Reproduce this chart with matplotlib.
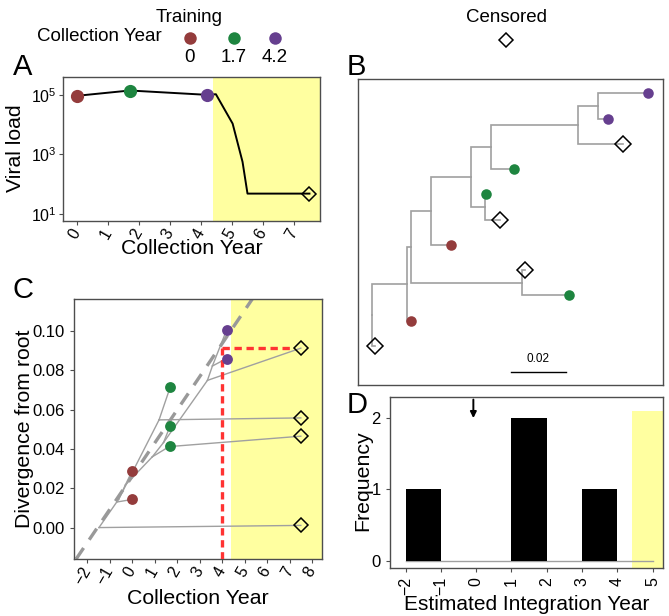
import matplotlib
matplotlib.use('Agg')
import matplotlib.pyplot as plt
import numpy as np

plt.rcParams['font.family'] = ['Liberation Sans', 'DejaVu Sans']
plt.rcParams['mathtext.fontset'] = 'custom'
plt.rcParams['mathtext.rm'] = 'Liberation Sans'
plt.rcParams['mathtext.it'] = 'Liberation Sans:italic'
plt.rcParams['axes.unicode_minus'] = True

# ---------------- data ----------------
red, green, purple = '#943C3C', '#1E8540', '#663F8F'
yellow = '#FFFFA0'
year_cols = {0: red, 1.7: green, 4.2: purple}
train_years = [0, 1.7, 4.2]
censor_year = 7.5
shade_start = 4.4

# panel A, viral load
vl_year = [0, 1.7, 4.2, 4.48, 5.02, 5.34, 5.5, 7.5]
vl_load = [9.3e4, 1.4e5, 1.0e5, 1.05e5, 1.08e4, 5.6e2, 48, 48]

# tree tips, bottom to top in panel B
tip_names = ['t1', 't2', 't3', 't4', 't5', 't6', 't7', 't8', 't9', 't10', 't11']
tip_year = [7.5, 0, 1.7, 7.5, 0, 7.5, 1.7, 1.7, 7.5, 4.2, 4.2]
tip_div = [0.0011, 0.0143, 0.0716, 0.0558, 0.0287, 0.0465, 0.0416, 0.0519, 0.0913, 0.0860, 0.1005]

# internal nodes (divergence, estimated year in panel C)
node_names = ['root', 'n1', 'n2', 'n3', 'n4', 'n5', 'n6', 'n7', 'n8', 'n9']
node_div = [0.0, 0.0130, 0.0143, 0.0216, 0.0548, 0.0360, 0.0433, 0.0412, 0.0749, 0.0822]
node_year = [-1.47, -0.68, -0.6, -0.3, 1.2, 0.9, 1.4, 1.65, 3.35, 3.57]

edges = [('root', 't1'), ('root', 'n1'), ('n1', 't2'), ('n1', 'n2'),
         ('n2', 'n3'), ('n2', 'n4'), ('n4', 't3'), ('n4', 't4'),
         ('n3', 't5'), ('n3', 'n5'), ('n5', 'n7'), ('n5', 'n6'),
         ('n7', 't7'), ('n7', 't6'), ('n6', 't8'), ('n6', 'n8'),
         ('n8', 't9'), ('n8', 'n9'), ('n9', 't10'), ('n9', 't11')]

# root-to-tip regression and integration estimate
reg_intercept = 0.026
reg_slope = 0.0169
integ_tip = 't9'
integ_est = 3.98

# panel D, estimated integration years of censored tips
integ_years = [-1.48, 1.21, 1.76, 3.98]
hist_bins = [-2, -1, 0, 1, 2, 3, 4, 5]
arrow_year = -0.08

div = dict(zip(tip_names + node_names, tip_div + node_div))
yr = dict(zip(tip_names + node_names, tip_year + node_year))

# ---------------- helpers ----------------
spine_col = '#4d4d4d'
lab_size = 15.3
tick_size = 11.5


def style(ax):
    for s in ax.spines.values():
        s.set_color(spine_col)
        s.set_linewidth(1.0)
    ax.tick_params(direction='out', length=3, width=0.8, color=spine_col,
                   labelsize=tick_size, labelcolor='black')


def tip_marker(ax, x, y, year, ms_o, ms_d):
    if year == censor_year:
        ax.plot(x, y, 'D', ms=ms_d, mfc='none', mec='black', mew=1.1, zorder=5)
    else:
        ax.plot(x, y, 'o', ms=ms_o, color=year_cols[year], mec='none', zorder=5)


fig = plt.figure(figsize=(6.69, 6.16), dpi=100)

# ---------------- A ----------------
ax_a = fig.add_axes([0.0949, 0.6412, 0.3834, 0.2338])
ax_a.set_yscale('log')
ax_a.set_xlim(-0.44, 7.84)
ax_a.set_ylim(10 ** 0.76, 10 ** 5.6)
ax_a.axvspan(shade_start, 7.84, color=yellow, lw=0, zorder=0)
ax_a.plot(vl_year, vl_load, color='black', lw=1.4, zorder=2)
for y0 in train_years:
    i = vl_year.index(y0)
    ax_a.plot(vl_year[i], vl_load[i], 'o', ms=9.5, color=year_cols[y0], mec='none', zorder=5)
ax_a.plot(vl_year[-1], vl_load[-1], 'D', ms=7.6, mfc='none', mec='black', mew=1.1, zorder=5)
ax_a.set_yticks([1e1, 1e3, 1e5])
ax_a.minorticks_off()
ax_a.set_xticks(range(0, 8))
style(ax_a)
ax_a.tick_params(axis='y', labelsize=11.5, pad=2)
plt.setp(ax_a.get_xticklabels(), rotation=60, ha='right', va='center', rotation_mode='anchor')
ax_a.set_xlabel('Collection Year', fontsize=lab_size)
ax_a.set_ylabel('Viral load', fontsize=lab_size)
ax_a.xaxis.set_label_coords(0.5, -0.125)
ax_a.xaxis.label.set_va('top')
ax_a.yaxis.set_label_coords(-0.15, 0.507)

# ---------------- B ----------------
ax_b = fig.add_axes([0.5351, 0.375, 0.4559, 0.4968])
children = {}
for p, c in edges:
    children.setdefault(p, []).append(c)
ypos = {n: i + 1 for i, n in enumerate(tip_names)}


def get_y(n):
    if n not in ypos:
        ypos[n] = np.mean([get_y(c) for c in children[n]])
    return ypos[n]


get_y('root')
for p, c in edges:
    ax_b.plot([div[p], div[p], div[c]], [ypos[p], ypos[c], ypos[c]],
              color='#a0a0a0', lw=1.2, zorder=1, solid_joinstyle='miter')
for n, y0 in zip(tip_names, tip_year):
    tip_marker(ax_b, div[n], ypos[n], y0, 7.6, 7.8)
ax_b.plot([0.0506, 0.0706], [-0.017, -0.017], color='black', lw=1.0)
ax_b.annotate('0.02', xy=(0.0606, -0.017), xytext=(0, 5), textcoords='offset points',
              ha='center', va='bottom', fontsize=8.5)
ax_b.set_xlim(-0.005, 0.1059)
ax_b.set_ylim(-0.543, 11.566)
ax_b.set_xticks([])
ax_b.set_yticks([])
style(ax_b)

# ---------------- C ----------------
ax_c = fig.add_axes([0.1106, 0.0925, 0.3707, 0.4221])
ax_c.set_xlim(-2.58, 8.44)
ax_c.set_ylim(-0.016, 0.1163)
ax_c.axvspan(shade_start, 8.44, color=yellow, lw=0, zorder=0)
for p, c in edges:
    ax_c.plot([yr[p], yr[c]], [div[p], div[c]], color='#a0a0a0', lw=1.0, zorder=1)
ax_c.axline((0, reg_intercept), slope=reg_slope, color='#999999', lw=2.4,
            dashes=(4, 3), zorder=2)
ax_c.plot([integ_est, integ_est], [-0.016, div[integ_tip]], color='#FF3333', lw=2.4,
          dashes=(2.2, 1.4), zorder=3)
ax_c.plot([integ_est, yr[integ_tip] - 0.3], [div[integ_tip]] * 2, color='#FF3333', lw=2.4,
          dashes=(2.2, 1.4), zorder=3)
for n, y0 in zip(tip_names, tip_year):
    tip_marker(ax_c, yr[n], div[n], y0, 7.8, 7.1)
ax_c.set_xticks(range(-2, 9))
ax_c.set_yticks([0, 0.02, 0.04, 0.06, 0.08, 0.10])
ax_c.set_yticklabels(['0.00', '0.02', '0.04', '0.06', '0.08', '0.10'])
style(ax_c)
ax_c.tick_params(axis='y', labelsize=12)
plt.setp(ax_c.get_xticklabels(), rotation=60, ha='right', va='center', rotation_mode='anchor')
ax_c.set_xlabel('Collection Year', fontsize=lab_size)
ax_c.set_ylabel('Divergence from root', fontsize=lab_size)
ax_c.xaxis.set_label_coords(0.5, -0.115)
ax_c.xaxis.label.set_va('top')
ax_c.yaxis.set_label_coords(-0.16, 0.5)

# ---------------- D ----------------
ax_d = fig.add_axes([0.583, 0.0779, 0.408, 0.2781])
counts, edges_d = np.histogram(integ_years, bins=hist_bins)
ax_d.set_xlim(-2.44, 5.29)
ax_d.set_ylim(-0.1, 2.3)
ax_d.fill_betweenx([-0.1, 2.1], shade_start, 5.29, color=yellow, lw=0, zorder=0)
ax_d.plot([edges_d[0], edges_d[-1]], [0, 0], color='#a0a0a0', lw=1.0, zorder=1)
ax_d.bar(edges_d[:-1], counts, width=1, align='edge', color='black', zorder=2)
ax_d.annotate('', xy=(arrow_year, 2.0), xytext=(arrow_year, 2.26),
              arrowprops=dict(arrowstyle='-|>', color='black', lw=1.4,
                              mutation_scale=9, shrinkA=0, shrinkB=0))
ax_d.set_xticks(range(-2, 6))
ax_d.set_yticks([0, 1, 2])
style(ax_d)
ax_d.tick_params(axis='y', labelsize=12)
plt.setp(ax_d.get_xticklabels(), rotation=90, ha='right', va='center', rotation_mode='anchor')
ax_d.set_xlabel('Estimated Integration Year', fontsize=15)
ax_d.set_ylabel('Frequency', fontsize=lab_size)
ax_d.xaxis.set_label_coords(0.5, -0.155)
ax_d.xaxis.label.set_va('top')
ax_d.yaxis.set_label_coords(-0.066, 0.509)

# ---------------- legend and panel letters ----------------
fig.text(0.2825, 0.9724, 'Training', ha='center', va='center', fontsize=13.5)
fig.text(0.242, 0.94, 'Collection Year', ha='right', va='center', fontsize=13.5)
key_x = [0.284, 0.3498, 0.411]
for kx, y0 in zip(key_x, train_years):
    fig.lines.append(plt.Line2D([kx], [0.938], marker='o', ms=9, color=year_cols[y0],
                                mec='none', transform=fig.transFigure))
    fig.text(kx, 0.906, f'{y0:g}', ha='center', va='center', fontsize=13.5)
fig.text(0.7564, 0.9724, 'Censored', ha='center', va='center', fontsize=13.5)
fig.lines.append(plt.Line2D([0.7564], [0.935], marker='D', ms=7.1, mfc='none', mec='black',
                            mew=1.1, transform=fig.transFigure))

for lab, x0, y0 in [('A', 0.019, 0.891), ('B', 0.5187, 0.891),
                    ('C', 0.019, 0.529), ('D', 0.518, 0.3425)]:
    fig.text(x0, y0, lab, ha='left', va='center', fontsize=21)

fig.savefig('out.png', dpi=100)
